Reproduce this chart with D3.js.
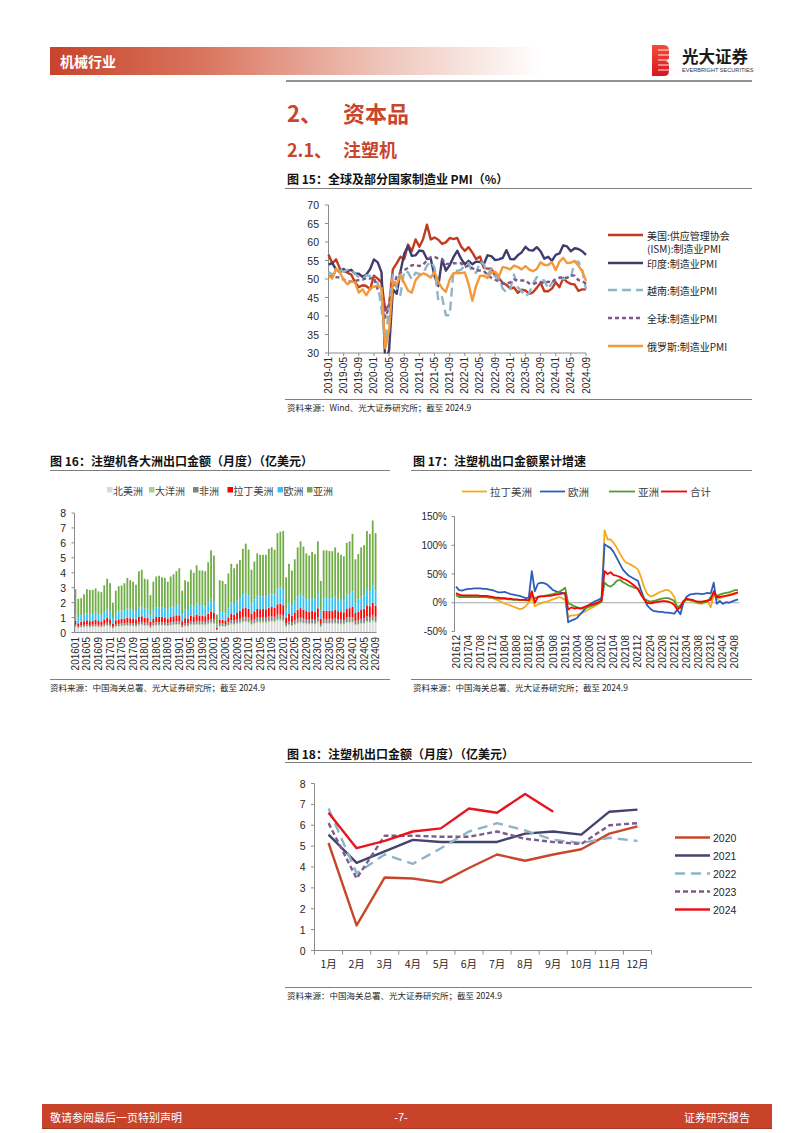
<!DOCTYPE html>
<html><head><meta charset="utf-8">
<script src="https://cdn.jsdelivr.net/npm/d3@7"></script>
<style>
body{margin:0;background:#fff;}
svg text{font-family:"Liberation Sans","Noto Sans CJK SC",sans-serif;}
</style></head><body>
<svg id="page" width="802" height="1133" xmlns="http://www.w3.org/2000/svg"></svg>
<script>
// ---------------- DATA ----------------
// Figure 15: PMI, 2019-01 .. 2024-09
const pmiStart = "2019-01", pmiEnd = "2024-09";
const pmiTicks = [70,65,60,55,50,45,40,35,30];
const pmiNames = ["美国:供应管理协会\n(ISM):制造业PMI","印度:制造业PMI","越南:制造业PMI","全球:制造业PMI","俄罗斯:制造业PMI"];
const pmiUS = [56.6,54.2,55.3,52.8,52.1,51.7,51.2,49.1,47.8,48.3,48.1,47.2,50.9,50.1,49.1,41.5,43.1,52.6,54.2,56.0,55.4,59.3,57.5,60.7,58.7,60.8,64.7,60.7,61.2,60.6,59.5,59.9,61.1,60.8,61.1,58.8,57.6,58.6,57.1,55.4,56.1,53.0,52.8,52.8,50.9,50.2,49.0,48.4,47.4,47.7,46.3,47.1,46.9,46.0,46.4,47.6,49.0,46.7,46.7,47.4,49.1,47.8,50.3,49.2,48.7,48.5,46.8,47.2,47.2];
const pmiIndia = [53.9,54.3,52.6,51.8,52.7,52.1,52.5,51.4,51.4,50.6,51.2,52.7,55.3,54.5,51.8,27.4,30.8,47.2,46.0,52.0,56.8,58.9,56.3,56.4,57.7,57.5,55.4,55.5,50.8,48.1,55.3,52.3,53.7,55.9,57.6,55.5,54.0,54.9,54.0,54.7,54.6,53.9,56.4,56.2,55.1,55.3,55.7,57.8,55.4,55.3,56.4,57.2,58.7,57.8,57.7,58.6,57.5,55.5,56.0,54.9,56.5,56.9,59.1,58.8,57.5,58.3,58.1,57.5,56.5];
const pmiVietnam = [51.9,51.2,51.9,52.5,52.0,52.5,52.6,51.4,50.5,50.0,51.0,50.8,49.4,49.0,41.9,32.7,42.7,51.1,47.6,45.7,52.2,51.8,49.9,51.7,51.3,51.6,53.6,54.7,53.1,44.1,45.1,40.2,40.2,52.1,52.2,52.5,53.7,54.3,51.7,51.7,54.7,54.0,51.2,52.7,50.6,50.6,47.4,46.4,47.4,51.2,47.7,46.7,45.3,46.2,48.7,50.5,49.7,49.6,47.3,48.9,50.3,50.4,49.9,50.3,50.3,54.7,54.7,52.4,47.3];
const pmiGlobal = [50.8,50.6,50.5,50.4,49.8,49.4,49.3,49.5,49.7,49.8,50.3,50.1,50.4,47.1,47.6,39.6,42.4,47.8,50.6,51.8,52.4,53.0,53.7,53.8,53.5,53.9,55.0,55.9,56.0,55.5,55.4,54.1,54.1,54.3,54.2,54.3,53.2,53.7,52.9,52.3,52.3,52.2,51.1,50.3,49.8,49.4,48.8,48.7,49.1,49.9,49.6,49.6,49.6,48.8,48.6,49.0,49.2,48.8,49.3,49.0,50.0,50.3,50.6,50.3,51.0,50.9,49.7,49.5,48.7];
const pmiRussia = [50.9,50.1,52.8,51.8,49.8,48.6,49.3,49.1,46.3,47.2,45.6,47.5,47.9,48.2,47.5,31.3,36.2,49.4,48.4,51.1,48.9,46.9,46.3,49.7,50.9,51.5,51.1,50.4,51.9,49.2,47.5,46.5,49.8,51.6,51.7,51.6,51.8,48.6,44.1,48.2,50.8,50.9,50.3,51.7,52.0,50.7,53.2,53.0,52.6,53.6,53.2,52.6,53.5,52.6,52.1,52.7,54.5,53.8,53.8,54.6,52.4,54.7,55.7,54.3,54.4,54.9,53.6,52.1,49.5];

// Figure 16: monthly exports by continent, 2016-01 .. 2024-09 (亿美元)
const c16Start = "2016-01", c16End = "2024-09";
const c16Keys = ["北美洲","大洋洲","非洲","拉丁美洲","欧洲","亚洲"];
const c16Ticks = [0,1,2,3,4,5,6,7,8];
const expNorthAm = [0.35,0.28,0.32,0.34,0.36,0.33,0.35,0.37,0.34,0.33,0.38,0.42, 0.38,0.26,0.36,0.38,0.40,0.40,0.42,0.41,0.40,0.38,0.45,0.46, 0.42,0.42,0.30,0.40,0.44,0.45,0.44,0.43,0.40,0.44,0.46,0.48, 0.48,0.32,0.40,0.40,0.48,0.46,0.50,0.47,0.47,0.46,0.52,0.58, 0.55,0.14,0.38,0.38,0.36,0.44,0.52,0.50,0.55,0.58,0.64,0.66, 0.62,0.50,0.56,0.62,0.62,0.63,0.62,0.66,0.68,0.66,0.74,0.75, 0.70,0.38,0.46,0.42,0.50,0.56,0.60,0.57,0.53,0.52,0.54,0.52, 0.62,0.35,0.55,0.55,0.55,0.55,0.57,0.54,0.52,0.51,0.60,0.61, 0.62,0.46,0.50,0.55,0.56,0.64,0.62,0.70,0.63];
const expOceania = [0.05,0.04,0.05,0.05,0.06,0.05,0.05,0.06,0.05,0.05,0.06,0.07, 0.06,0.04,0.05,0.06,0.06,0.06,0.07,0.06,0.06,0.06,0.07,0.07, 0.07,0.07,0.05,0.06,0.07,0.07,0.07,0.07,0.06,0.07,0.07,0.08, 0.08,0.05,0.06,0.06,0.07,0.07,0.08,0.07,0.07,0.07,0.08,0.09, 0.09,0.02,0.06,0.06,0.06,0.07,0.08,0.08,0.09,0.09,0.10,0.10, 0.10,0.08,0.09,0.10,0.10,0.10,0.10,0.11,0.11,0.10,0.12,0.12, 0.11,0.06,0.08,0.07,0.08,0.09,0.10,0.09,0.09,0.08,0.09,0.08, 0.10,0.06,0.09,0.09,0.09,0.09,0.09,0.09,0.08,0.08,0.10,0.10, 0.10,0.08,0.08,0.09,0.09,0.11,0.10,0.12,0.10];
const expAfrica = [0.12,0.10,0.11,0.12,0.13,0.12,0.12,0.14,0.12,0.11,0.14,0.16, 0.14,0.10,0.13,0.14,0.15,0.15,0.16,0.15,0.15,0.14,0.17,0.18, 0.16,0.16,0.12,0.15,0.17,0.17,0.17,0.16,0.15,0.17,0.18,0.19, 0.19,0.13,0.16,0.16,0.19,0.18,0.20,0.19,0.19,0.18,0.21,0.24, 0.24,0.06,0.16,0.16,0.15,0.18,0.22,0.21,0.23,0.25,0.28,0.29, 0.28,0.22,0.25,0.28,0.27,0.27,0.27,0.29,0.30,0.29,0.33,0.34, 0.32,0.18,0.22,0.20,0.24,0.27,0.29,0.27,0.25,0.25,0.26,0.25, 0.30,0.17,0.27,0.27,0.27,0.27,0.28,0.26,0.26,0.25,0.30,0.30, 0.32,0.24,0.26,0.28,0.29,0.33,0.32,0.36,0.32];
const expLatAm = [0.26,0.20,0.24,0.25,0.27,0.26,0.27,0.28,0.26,0.25,0.30,0.34, 0.30,0.20,0.28,0.30,0.31,0.32,0.34,0.33,0.32,0.30,0.36,0.38, 0.34,0.34,0.24,0.32,0.36,0.37,0.36,0.35,0.33,0.36,0.38,0.40, 0.40,0.26,0.33,0.32,0.39,0.37,0.42,0.39,0.39,0.38,0.44,0.50, 0.45,0.10,0.26,0.25,0.24,0.32,0.42,0.40,0.46,0.52,0.60,0.62, 0.58,0.45,0.52,0.58,0.57,0.57,0.57,0.60,0.62,0.60,0.70,0.72, 0.70,0.38,0.48,0.44,0.52,0.60,0.64,0.60,0.56,0.54,0.57,0.55, 0.60,0.34,0.55,0.55,0.54,0.54,0.57,0.53,0.52,0.51,0.60,0.62, 0.70,0.52,0.56,0.62,0.64,0.74,0.72,0.82,0.73];
const expEurope = [0.45,0.38,0.42,0.44,0.46,0.45,0.44,0.47,0.45,0.44,0.50,0.55, 0.52,0.36,0.50,0.54,0.55,0.56,0.60,0.58,0.56,0.54,0.64,0.66, 0.60,0.60,0.42,0.58,0.64,0.65,0.63,0.62,0.58,0.64,0.66,0.70, 0.70,0.46,0.58,0.56,0.68,0.65,0.72,0.67,0.67,0.66,0.75,0.85, 0.78,0.20,0.52,0.52,0.48,0.62,0.76,0.72,0.80,0.86,0.95,0.98, 0.88,0.70,0.80,0.88,0.86,0.86,0.85,0.90,0.92,0.90,1.05,1.08, 1.02,0.58,0.72,0.66,0.78,0.88,0.94,0.89,0.83,0.80,0.84,0.82, 0.95,0.54,0.86,0.86,0.85,0.85,0.89,0.83,0.81,0.80,0.94,0.96, 1.00,0.74,0.80,0.86,0.89,1.04,1.00,1.14,1.02];
const expAsia = [1.67,1.25,1.16,1.35,1.62,1.64,1.62,1.63,1.53,1.52,1.77,2.06, 1.90,1.04,1.48,1.68,1.68,1.81,2.06,1.97,1.91,1.78,2.41,2.45, 2.01,1.96,1.37,1.89,2.07,2.09,2.03,2.02,1.88,2.07,2.15,2.25, 2.45,1.58,1.97,1.90,2.39,2.27,2.58,2.36,2.36,2.35,2.70,3.24, 3.04,0.68,2.12,2.08,1.96,2.32,2.60,2.39,2.47,2.55,3.03,3.30, 3.09,2.25,2.53,2.84,2.78,2.77,2.79,3.04,3.07,3.00,3.71,3.74, 3.95,2.12,2.64,2.36,2.78,3.30,3.53,3.33,3.04,2.96,3.10,3.03, 3.53,1.99,3.18,3.18,3.15,3.15,3.30,3.10,3.01,2.95,3.46,3.51, 3.86,2.86,3.05,3.30,3.38,3.94,3.84,4.36,3.85];

// Figure 17: cumulative YoY growth (%), 2016-12 .. 2024-09
const c17Start = "2016-12", c17End = "2024-09";
const c17Names = ["拉丁美洲","欧洲","亚洲","合计"];
const c17Ticks = [150,100,50,0,-50];
const grLatAm = [16, 12,11,12,12,12,12,12,11,10,10,9,8, 6,4,1,-1,-3,-5,-7,-9,-11,-10,-6,0, 8,-6,-3,-1,1,2,4,6,8,10,8,5, -25,-22,-22,-21,-19,-17,-14,-11,-8,-5,-2,2, 126,110,110,104,96,86,77,70,68,65,62,58, 45,28,16,11,12,15,18,20,22,22,18,10, -8,-10,0,5,4,2,0,-1,-2,0,2,-8, 14,6,8,10,12,14,16,17,18];
const grEurope = [28, 22,21,23,24,24,25,25,25,24,24,23,22, 20,18,18,19,17,15,14,13,12,10,8,9, 55,20,33,35,34,32,27,22,20,18,17,16, -34,-31,-29,-26,-20,-14,-8,-3,0,3,5,8, 102,98,95,88,78,68,58,52,47,44,41,38, 22,8,-4,-10,-14,-15,-16,-16,-17,-17,-18,-19, -12,-20,0,10,14,15,16,16,15,16,17,16, 35,-2,3,-2,1,0,2,4,6];
const grAsia = [13, 10,10,10,10,10,10,10,10,10,10,9,9, 8,7,7,7,6,6,5,5,5,5,4,4, 12,8,10,11,12,13,14,15,17,19,22,26, -1,-3,-6,-8,-10,-10,-9,-7,-5,-3,-1,2, 35,30,28,32,38,40,36,33,30,28,26,24, 15,8,4,2,3,4,6,7,8,8,6,3, -8,-5,2,6,5,4,2,0,0,1,2,10, 15,12,14,16,17,18,20,22,22];
const grTotal = [17, 14,13,13,13,13,13,13,12,12,12,11,10, 9,9,8,8,7,7,6,6,5,5,5,4, 20,0,10,11,11,12,12,13,14,15,16,17, -12,-8,-10,-9,-10,-8,-6,-4,-3,-1,1,4, 55,50,53,48,47,45,42,40,37,33,29,24, 14,6,0,-1,0,1,2,3,3,2,0,-4, -12,-8,3,7,6,5,3,2,2,3,4,5, 20,10,10,11,12,13,14,16,18];

// Figure 18: monthly export value by year (亿美元)
const c18Months = ["1月","2月","3月","4月","5月","6月","7月","8月","9月","10月","11月","12月"];
const c18Ticks = [0,1,2,3,4,5,6,7,8];
const c18Years = ["2020","2021","2022","2023","2024"];
const y2020 = [5.15,1.2,3.5,3.45,3.25,3.95,4.6,4.3,4.6,4.85,5.6,5.95];
const y2021 = [5.55,4.2,4.75,5.3,5.2,5.2,5.2,5.6,5.7,5.55,6.65,6.75];
const y2022 = [6.8,3.7,4.6,4.15,4.9,5.7,6.1,5.75,5.3,5.15,5.4,5.25];
const y2023 = [6.1,3.45,5.5,5.5,5.45,5.45,5.7,5.35,5.2,5.1,6.0,6.1];
const y2024 = [6.6,4.9,5.25,5.7,5.85,6.8,6.6,7.5,6.65];

// ---------------- DRAW ----------------
const svg = d3.select("#page");
const CJK = '"Noto Sans CJK SC","Liberation Sans",sans-serif';
const LAT = '"Liberation Sans","Noto Sans CJK SC",sans-serif';
const ORANGE = "#C9452B";
const AXIS = "#8C8C8C";
const TXT = "#262626";
const defs = svg.append("defs");

function monthSeq(start, end, fmt){
  const p = d3.timeParse("%Y-%m");
  return d3.timeMonth.range(p(start), d3.timeMonth.offset(p(end),1)).map(d3.timeFormat(fmt));
}
function txt(x,y,s,opt={}){
  return svg.append("text").attr("x",x).attr("y",y).text(s)
    .attr("font-size",opt.size||10).attr("fill",opt.fill||TXT)
    .attr("font-weight",opt.weight||"normal")
    .attr("text-anchor",opt.anchor||"start")
    .attr("dominant-baseline",opt.base||"central")
    .style("font-family",opt.font||LAT);
}
function hline(x1,x2,y,color,w){
  svg.append("line").attr("x1",x1).attr("x2",x2).attr("y1",y).attr("y2",y).attr("stroke",color).attr("stroke-width",w);
}

// header
const hg = defs.append("linearGradient").attr("id","hdr").attr("x1","0").attr("x2","1");
[["0","#C8432A"],["0.3","#D9735D"],["0.65","#EDC0B4"],["1","#FFFFFF"]].forEach(s=>hg.append("stop").attr("offset",s[0]).attr("stop-color",s[1]));
svg.append("rect").attr("x",50).attr("y",47).attr("width",492).attr("height",28).attr("fill","url(#hdr)");
txt(60,61,"机械行业",{size:14,fill:"#fff",weight:"bold",font:CJK});
hline(286,752,81,"#6E6E6E",1.6);
// logo
const lg = defs.append("linearGradient").attr("id","logo").attr("x1","0").attr("x2","0").attr("y1","0").attr("y2","1");
[["0","#F04E3A"],["1","#D9141E"]].forEach(s=>lg.append("stop").attr("offset",s[0]).attr("stop-color",s[1]));
svg.append("path").attr("d","M652,45 h12 q5,0 5,6 v6 q0,3 -3,4 q3,1 3,4 v6 q0,5 -5,5 h-12 z").attr("fill","url(#logo)");
[50,55,60,65,70].forEach(y=>svg.append("line").attr("x1",658).attr("x2",670).attr("y1",y).attr("y2",y).attr("stroke","#fff").attr("stroke-width",0.9));
txt(682,56,"光大证券",{size:16.5,weight:"bold",fill:"#1a1a1a",font:CJK});
txt(682,69.5,"EVERBRIGHT SECURITIES",{size:5.6,fill:"#333"});

// section titles
txt(287,112,"2、",{size:22,weight:"bold",fill:ORANGE,font:CJK});
txt(343,112,"资本品",{size:22,weight:"bold",fill:ORANGE,font:CJK});
txt(287,149,"2.1、",{size:18,weight:"bold",fill:ORANGE,font:CJK});
txt(343,149,"注塑机",{size:18,weight:"bold",fill:ORANGE,font:CJK});

// ---------- Figure 15 ----------
txt(287,178,"图 15：全球及部分国家制造业 PMI（%）",{size:12,weight:"bold",fill:"#111",font:CJK});
hline(285,752,188.5,"#7F7F7F",1.2);
{
  const months = monthSeq(pmiStart,pmiEnd,"%Y-%m");
  const x = d3.scalePoint().domain(months).range([328.5,586]);
  const y = d3.scaleLinear().domain([30,70]).range([353,205]);
  defs.append("clipPath").attr("id","c15").append("rect").attr("x",326).attr("y",204).attr("width",266).attr("height",149.5);
  const g = svg.append("g");
  g.append("line").attr("x1",328.5).attr("x2",328.5).attr("y1",205).attr("y2",353).attr("stroke",AXIS);
  g.append("line").attr("x1",328.5).attr("x2",586).attr("y1",353).attr("y2",353).attr("stroke",AXIS);
  pmiTicks.forEach(t=>{
    g.append("line").attr("x1",325).attr("x2",328.5).attr("y1",y(t)).attr("y2",y(t)).attr("stroke",AXIS);
    txt(319,y(t),t,{size:10.5,anchor:"end"});
  });
  months.forEach((m,i)=>{
    if(i%4===0){
      g.append("line").attr("x1",x(m)).attr("x2",x(m)).attr("y1",353).attr("y2",356).attr("stroke",AXIS);
      txt(x(m),357,m,{size:10,anchor:"end"}).attr("transform",`rotate(-90,${x(m)},357)`);
    }
  });
  const series = [
    {v:pmiUS,c:"#C33B1F",d:null},
    {v:pmiIndia,c:"#3F3D6B",d:null},
    {v:pmiVietnam,c:"#8FB5C9",d:"9,5"},
    {v:pmiGlobal,c:"#7A5A8C",d:"4,3"},
    {v:pmiRussia,c:"#F3993A",d:null}
  ];
  const line = d3.line().x((d,i)=>x(months[i])).y(d=>y(d));
  const pg = svg.append("g").attr("clip-path","url(#c15)");
  series.forEach(s=>{
    pg.append("path").datum(s.v).attr("d",line).attr("fill","none").attr("stroke",s.c)
      .attr("stroke-width",2.4).attr("stroke-dasharray",s.d).attr("stroke-linejoin","round");
  });
  const rows = [235,263,290,318,346];
  series.forEach((s,i)=>{
    svg.append("line").attr("x1",608).attr("x2",643).attr("y1",rows[i]).attr("y2",rows[i])
      .attr("stroke",s.c).attr("stroke-width",2.4).attr("stroke-dasharray",s.d);
    const parts = pmiNames[i].split("\n");
    parts.forEach((p,j)=>txt(647,rows[i]+j*13.5,p,{size:10,font:CJK}));
  });
}
hline(285,752,399.5,"#7F7F7F",1);
txt(287,406.5,"资料来源：Wind、光大证券研究所；截至 2024.9",{size:8.5,font:CJK});

// ---------- Figure 16 ----------
txt(50,460,"图 16：注塑机各大洲出口金额（月度）（亿美元）",{size:12,weight:"bold",fill:"#111",font:CJK});
hline(50,390,470.5,"#7F7F7F",1.2);
{
  const months = monthSeq(c16Start,c16End,"%Y%m");
  const rows = months.map((m,i)=>({m, "北美洲":expNorthAm[i],"大洋洲":expOceania[i],"非洲":expAfrica[i],"拉丁美洲":expLatAm[i],"欧洲":expEurope[i],"亚洲":expAsia[i]}));
  const colors = d3.scaleOrdinal().domain(c16Keys).range(["#D9D9D9","#A9D18E","#808080","#FF0000","#35C2F2","#70AD47"]);
  const stack = d3.stack().keys(c16Keys)(rows);
  const x = d3.scaleBand().domain(months).range([74.5,376.5]).paddingInner(0.38);
  const y = d3.scaleLinear().domain([0,8]).range([632.5,513]);
  const g = svg.append("g");
  stack.forEach(layer=>{
    g.append("g").attr("fill",colors(layer.key)).selectAll("rect").data(layer).join("rect")
      .attr("x",d=>x(d.data.m)).attr("width",x.bandwidth())
      .attr("y",d=>y(d[1])).attr("height",d=>Math.max(0,y(d[0])-y(d[1])));
  });
  g.append("line").attr("x1",74.5).attr("x2",74.5).attr("y1",513).attr("y2",632.5).attr("stroke",AXIS);
  g.append("line").attr("x1",74.5).attr("x2",376.5).attr("y1",632.5).attr("y2",632.5).attr("stroke",AXIS);
  c16Ticks.forEach(t=>{
    g.append("line").attr("x1",71.5).attr("x2",74.5).attr("y1",y(t)).attr("y2",y(t)).attr("stroke",AXIS);
    txt(66,y(t),t,{size:10.5,anchor:"end"});
  });
  months.forEach((m,i)=>{
    if(i%4===0){
      const cx = x(m)+x.bandwidth()/2;
      txt(cx,637,m,{size:10,anchor:"end"}).attr("transform",`rotate(-90,${cx},637)`);
    }
  });
  const lx = [107,149,193,227.5,277.5,307];
  c16Keys.forEach((k,i)=>{
    svg.append("rect").attr("x",lx[i]).attr("y",487).attr("width",5.5).attr("height",5.5).attr("fill",colors(k));
    txt(lx[i]+6,490,k,{size:10,font:CJK,fill:"#404040"});
  });
}
hline(50,390,679.5,"#7F7F7F",1);
txt(50,687,"资料来源：中国海关总署、光大证券研究所；截至 2024.9",{size:8.5,font:CJK});

// ---------- Figure 17 ----------
txt(413,460,"图 17：注塑机出口金额累计增速",{size:12,weight:"bold",fill:"#111",font:CJK});
hline(411,752,470.5,"#7F7F7F",1.2);
{
  const months = monthSeq(c17Start,c17End,"%Y%m");
  const x = d3.scaleBand().domain(months).range([454.5,739.5]);
  const cx = m=>x(m)+x.bandwidth()/2;
  const y = d3.scaleLinear().domain([-50,150]).range([631.5,516.5]);
  const g = svg.append("g");
  g.append("line").attr("x1",454.5).attr("x2",454.5).attr("y1",516.5).attr("y2",631.5).attr("stroke",AXIS);
  g.append("line").attr("x1",454.5).attr("x2",739.5).attr("y1",y(0)).attr("y2",y(0)).attr("stroke","#A6A6A6");
  c17Ticks.forEach(t=>{
    g.append("line").attr("x1",451.5).attr("x2",454.5).attr("y1",y(t)).attr("y2",y(t)).attr("stroke",AXIS);
    txt(447,y(t),t+"%",{size:10,anchor:"end"});
  });
  months.forEach((m,i)=>{
    if(i%4===0){
      txt(cx(m),635,m,{size:10,anchor:"end"}).attr("transform",`rotate(-90,${cx(m)},635)`);
    }
  });
  const series = [
    {v:grLatAm,c:"#F2AC1E"},
    {v:grEurope,c:"#2F5DB6"},
    {v:grAsia,c:"#4E9C33"},
    {v:grTotal,c:"#FF0000"}
  ];
  const line = d3.line().x((d,i)=>cx(months[i])).y(d=>y(d));
  series.forEach(s=>{
    g.append("path").datum(s.v).attr("d",line).attr("fill","none").attr("stroke",s.c).attr("stroke-width",1.8).attr("stroke-linejoin","round");
  });
  const lx = [[462,487,490],[540,565,568],[609,635,638],[661,687,690]];
  series.forEach((s,i)=>{
    svg.append("line").attr("x1",lx[i][0]).attr("x2",lx[i][1]).attr("y1",491.5).attr("y2",491.5).attr("stroke",s.c).attr("stroke-width",1.8);
    txt(lx[i][2],491.5,c17Names[i],{size:10.5,font:CJK,fill:"#404040"});
  });
}
hline(411,752,679.5,"#7F7F7F",1);
txt(413,687,"资料来源：中国海关总署、光大证券研究所；截至 2024.9",{size:8.5,font:CJK});

// ---------- Figure 18 ----------
txt(287,753,"图 18：注塑机出口金额（月度）（亿美元）",{size:12,weight:"bold",fill:"#111",font:CJK});
hline(285,752,762.5,"#7F7F7F",1.2);
{
  const x = d3.scaleBand().domain(c18Months).range([314.5,651.5]);
  const cx = m=>x(m)+x.bandwidth()/2;
  const y = d3.scaleLinear().domain([0,8]).range([950.5,783.5]);
  const g = svg.append("g");
  g.append("line").attr("x1",314.5).attr("x2",314.5).attr("y1",783.5).attr("y2",950.5).attr("stroke",AXIS);
  g.append("line").attr("x1",314.5).attr("x2",651.5).attr("y1",950.5).attr("y2",950.5).attr("stroke",AXIS);
  c18Ticks.forEach(t=>{
    g.append("line").attr("x1",311).attr("x2",314.5).attr("y1",y(t)).attr("y2",y(t)).attr("stroke",AXIS);
    txt(305.5,y(t),t,{size:10.5,anchor:"end"});
  });
  c18Months.forEach((m,i)=>{
    g.append("line").attr("x1",x(m)).attr("x2",x(m)).attr("y1",950.5).attr("y2",954.5).attr("stroke",AXIS);
    txt(cx(m),963.5,m,{size:10.5,anchor:"middle",font:CJK});
  });
  g.append("line").attr("x1",651.5).attr("x2",651.5).attr("y1",950.5).attr("y2",954.5).attr("stroke",AXIS);
  const series = [
    {v:y2020,c:"#C8472A",d:null},
    {v:y2021,c:"#43436D",d:null},
    {v:y2022,c:"#8DB4C8",d:"10,6"},
    {v:y2023,c:"#7B5C8E",d:"5,3"},
    {v:y2024,c:"#E8151F",d:null}
  ];
  const line = d3.line().x((d,i)=>cx(c18Months[i])).y(d=>y(d));
  series.forEach(s=>{
    g.append("path").datum(s.v).attr("d",line).attr("fill","none").attr("stroke",s.c).attr("stroke-width",2.4).attr("stroke-dasharray",s.d).attr("stroke-linejoin","round");
  });
  const rows = [837.5,855.5,873.5,891.5,909.5];
  series.forEach((s,i)=>{
    svg.append("line").attr("x1",675).attr("x2",710).attr("y1",rows[i]).attr("y2",rows[i]).attr("stroke",s.c).attr("stroke-width",2.4).attr("stroke-dasharray",s.d);
    txt(713,rows[i],c18Years[i],{size:10.5});
  });
}
hline(285,752,987.5,"#7F7F7F",1);
txt(287,994.5,"资料来源：中国海关总署、光大证券研究所；截至 2024.9",{size:8.5,font:CJK});

// footer
svg.append("rect").attr("x",42).attr("y",1104).attr("width",730).attr("height",24).attr("fill","#C8432A");
hline(42,772,1128.5,"#9E3A26",1);
txt(50,1117,"敬请参阅最后一页特别声明",{size:11,fill:"#fff",font:CJK});
txt(401,1117,"-7-",{size:11,fill:"#fff",anchor:"middle"});
txt(750,1117,"证券研究报告",{size:11,fill:"#fff",anchor:"end",font:CJK});
</script>
</body></html>
